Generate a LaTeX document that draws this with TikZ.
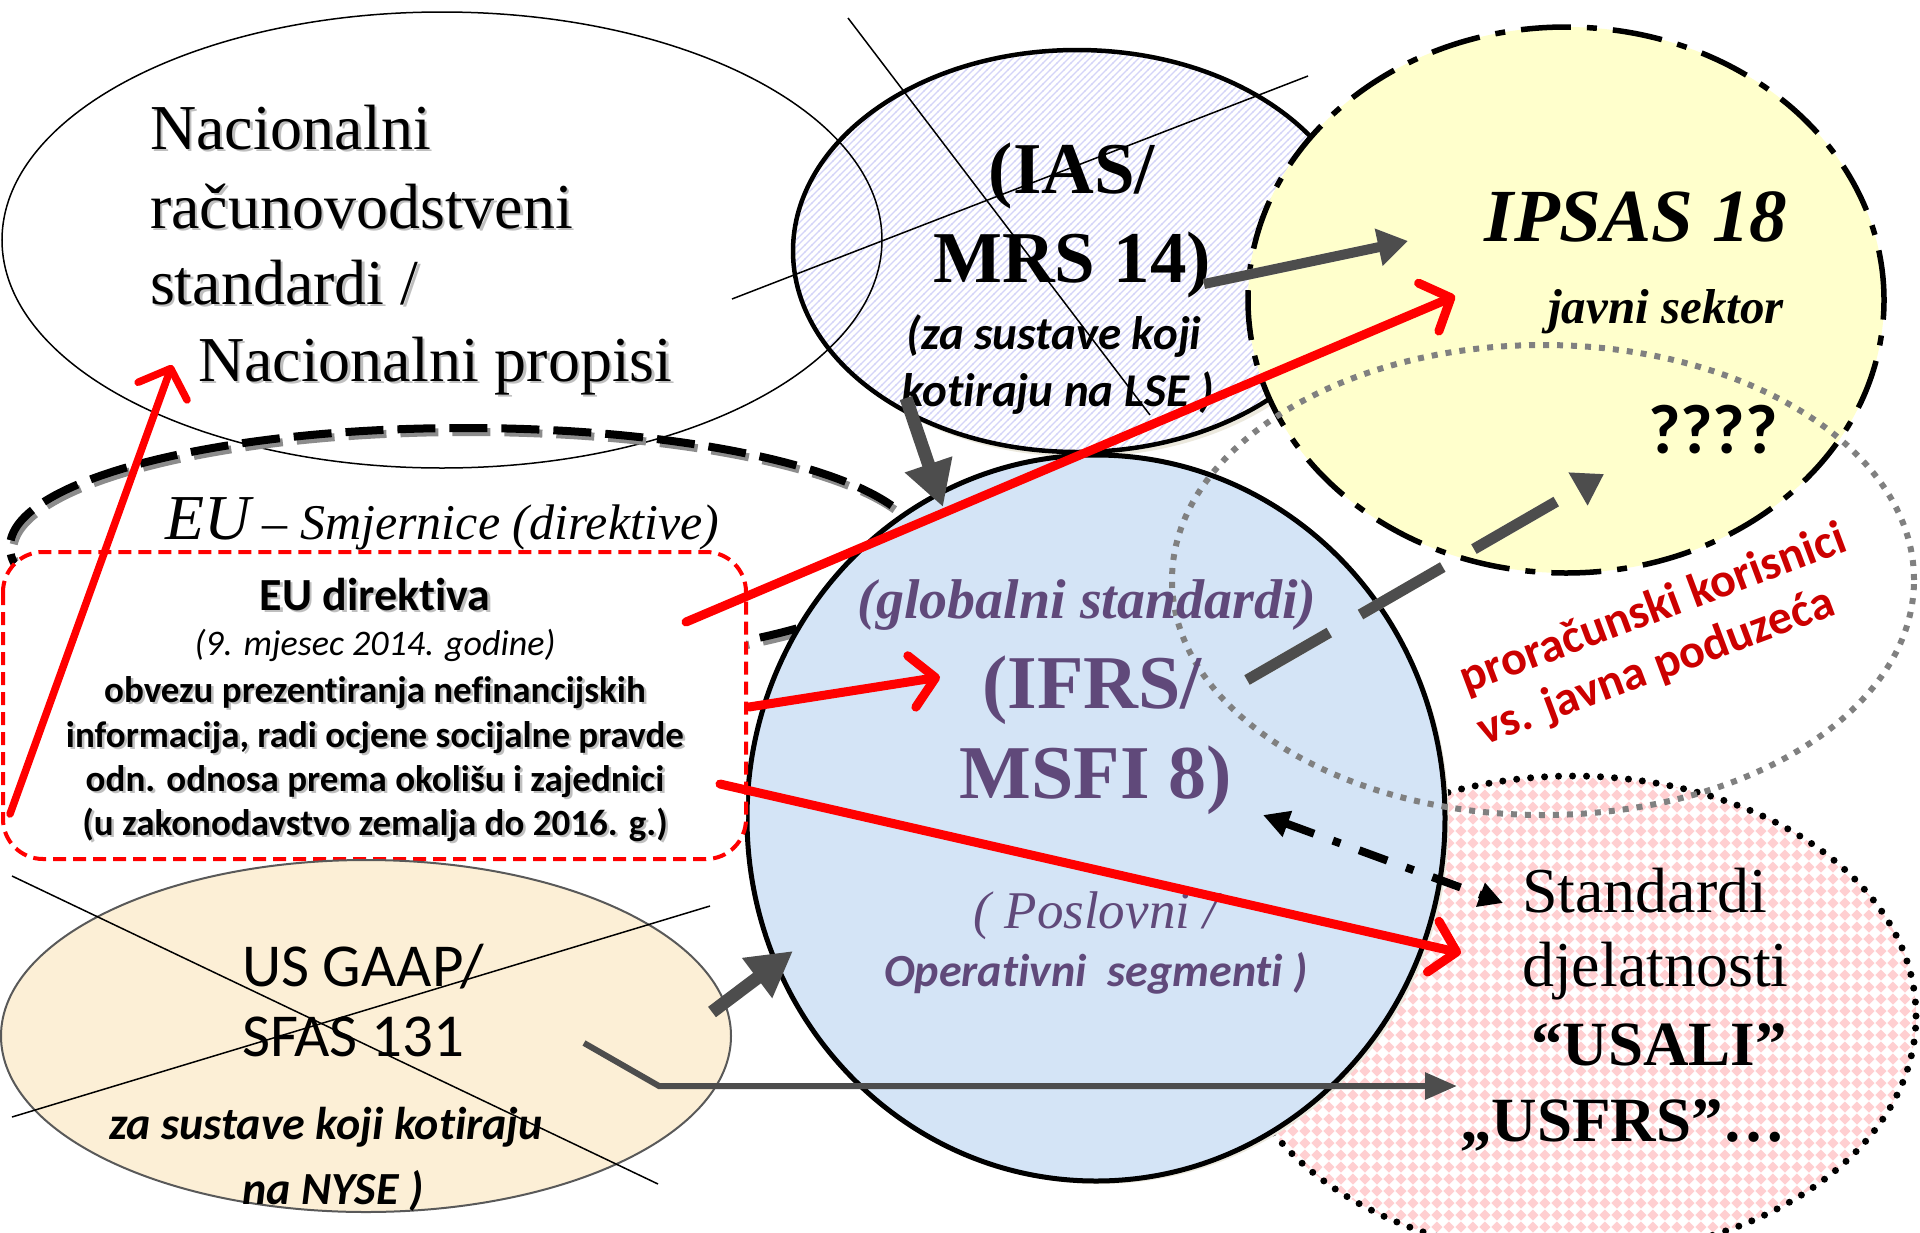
\documentclass[tikz,border=0pt]{standalone}
\usepackage{fontspec}
\setmainfont{Liberation Serif}
\newfontfamily\carl[Ligatures=NoCommon, RawFeature={-liga;-clig;-calt;-dlig}]{Carlito}
\usetikzlibrary{arrows.meta,patterns}

\newcommand\fsz[1]{\fontsize{#1}{#1}\selectfont}

\definecolor{ipsasyellow}{RGB}{255,255,204}
\definecolor{ifrsblue}{RGB}{212,228,246}
\definecolor{usbeige}{RGB}{252,239,214}
\definecolor{hatchblue}{RGB}{212,212,248}
\definecolor{pinkcell}{RGB}{255,207,209}
\definecolor{dotgray}{RGB}{128,128,128}
\definecolor{arrowgray}{RGB}{77,77,77}
\definecolor{ifrspurple}{RGB}{96,73,122}
\definecolor{redtxt}{RGB}{204,0,0}
\definecolor{halo}{RGB}{236,233,222}
\definecolor{glint}{RGB}{244,242,228}

% fine diagonal hatch for the IAS ellipse
\pgfdeclarepatternformonly{iashatch}{\pgfqpoint{-1pt}{-1pt}}{\pgfqpoint{8pt}{8pt}}{\pgfqpoint{7pt}{7pt}}{%
  \pgfsetlinewidth{1.3pt}%
  \pgfpathmoveto{\pgfqpoint{-0.5pt}{-0.5pt}}%
  \pgfpathlineto{\pgfqpoint{7.5pt}{7.5pt}}%
  \pgfusepath{stroke}}
% rotated checkerboard of diamonds
\pgfdeclarepatternformonly{diamondcheck}{\pgfpointorigin}{\pgfqpoint{12.4pt}{12.4pt}}{\pgfqpoint{12.4pt}{12.4pt}}{%
  \pgfpathmoveto{\pgfqpoint{0.4pt}{6.2pt}}%
  \pgfpathlineto{\pgfqpoint{6.2pt}{0.4pt}}%
  \pgfpathlineto{\pgfqpoint{12pt}{6.2pt}}%
  \pgfpathlineto{\pgfqpoint{6.2pt}{12pt}}%
  \pgfpathclose
  \pgfusepath{fill}}

% a text node with a soft drop shadow
\newcommand\shadowtext[4]{%
  \node[#2, text=black!25, xshift=2.5pt, yshift=-2.5pt] (#1-sh) at (#3) {#4};
  \node[#2] (#1) at (#3) {#4};}

\tikzset{
  lbl/.style={inner sep=0pt, outer sep=0pt},
  nactxt/.style={lbl, anchor=base west, font=\fsz{64}},
  iasbig/.style={lbl, anchor=base, font=\bfseries\fsz{73}},
  iassmall/.style={lbl, anchor=base, font=\carl\bfseries\itshape\fsz{47}},
  ifrstxt/.style={lbl, anchor=base, text=ifrspurple},
  stdtxt/.style={lbl, anchor=base west, font=\fsz{64}},
  dirtxt/.style={lbl, anchor=base, font=\carl\bfseries\fsz{37}},
  ustxt/.style={lbl, anchor=base west, font=\carl\fsz{61}},
  usnote/.style={lbl, anchor=base, font=\carl\bfseries\itshape\fsz{46}},
  pktxt/.style={lbl, anchor=base, rotate=20.5, text=redtxt, font=\carl\bfseries\fsz{48}},
  crossline/.style={black, line width=1.5pt},
  redarrow/.style={red, line width=9pt, line cap=round, line join=round,
    -{Straight Barb[length=24pt, width=52pt, line cap=round, line join=round]}},
  grayarrow/.style={arrowgray, line width=13pt, -{Triangle[length=45pt, width=47pt]}},
}

\begin{document}
\begin{tikzpicture}[x=1pt, y=-1pt]
\useasboundingbox (0,0) rectangle (1920,1232);
\fill[white] (0,0) rectangle (1920,1232);

% ---------- IAS / MRS 14 ellipse ----------
\fill[halo] (1081,256) ellipse [x radius=284pt, y radius=201pt];
\fill[white] (1077,251) ellipse [x radius=284pt, y radius=201pt];
\fill[pattern=iashatch, pattern color=hatchblue] (1077,251) ellipse [x radius=284pt, y radius=201pt];
\draw[line width=4.5pt] (1077,251) ellipse [x radius=284pt, y radius=201pt];

% ---------- national standards ellipse ----------
\draw[line width=1.5pt] (442,240) ellipse [x radius=440pt, y radius=228pt];

% ---------- EU guidelines ellipse (hand-drawn dashes) ----------
\draw[black!45, line width=8pt, dash pattern=on 38pt off 14pt] (468,551) ellipse [x radius=455pt, y radius=119pt];
\draw[black, line width=8pt, dash pattern=on 38pt off 14pt] (465,547) ellipse [x radius=455pt, y radius=119pt];

% ---------- industry standards ellipse ----------
\fill[white] (1573,1016) ellipse [x radius=343pt, y radius=240pt];
\fill[pattern=diamondcheck, pattern color=pinkcell] (1573,1016) ellipse [x radius=343pt, y radius=240pt];
\draw[black, line width=7pt, line cap=round, dash pattern=on 0pt off 14pt] (1573,1016) ellipse [x radius=343pt, y radius=240pt];

% ---------- IFRS circle ----------
\fill[halo] (1100,821) ellipse [x radius=349pt, y radius=363pt];
\fill[ifrsblue] (1096,818) ellipse [x radius=349pt, y radius=363pt];
\draw[line width=5pt] (1096,818) ellipse [x radius=349pt, y radius=363pt];

% ---------- IPSAS circle ----------
\fill[ipsasyellow] (1566,300) ellipse [x radius=318pt, y radius=273pt];
\draw[line width=5.5pt, dash pattern=on 50pt off 16pt on 10pt off 16pt] (1566,300) ellipse [x radius=318pt, y radius=273pt];

% ---------- public sector users ellipse ----------
\draw[dotgray, line width=6pt, dash pattern=on 6pt off 8pt] (1543,580) ellipse [x radius=371pt, y radius=235pt];

% ---------- EU directive box ----------
\draw[red, fill=white, line width=4pt, dash pattern=on 13pt off 7pt, rounded corners=40pt] (3,552) rectangle (746,859);

% ---------- US GAAP ellipse ----------
\fill[usbeige] (366,1036) ellipse [x radius=365pt, y radius=176pt];
\draw[black!65, line width=2pt] (366,1036) ellipse [x radius=365pt, y radius=176pt];

% ---------- texts ----------
\shadowtext{nac1}{nactxt}{150,149}{Nacionalni}
\shadowtext{nac2}{nactxt}{150,228}{računovodstveni}
\shadowtext{nac3}{nactxt}{150,304}{standardi /}
\shadowtext{nac4}{nactxt}{198,381}{Nacionalni propisi}

\node[iasbig] (ias1) at (1072,193) {(IAS/};
\node[iasbig] (ias2) at (1072,282) {MRS 14)};
\node[iassmall] (ias3) at (1054,349) {(za sustave koji};
\node[iassmall] (ias4) at (1058,406) {kotiraju na LSE )};

\node[lbl, anchor=base, font=\bfseries\itshape\fsz{75}] (ips1) at (1636,241) {IPSAS 18};
\node[lbl, anchor=base, font=\bfseries\itshape\fsz{49}] (ips2) at (1666,323) {javni sektor};
\node[lbl, anchor=base, font=\carl\bfseries\fsz{70}] (ips3) at (1713,453) {????};

\node[pktxt] (pk1) at (1658,622) {proračunski korisnici};
\node[pktxt] (pk2) at (1661,680) {vs. javna poduzeća};

\node[ifrstxt, font=\bfseries\itshape\fsz{56}] (if1) at (1087,618) {(globalni standardi)};
\node[ifrstxt, font=\bfseries\fsz{76}] (if2) at (1092,708) {(IFRS/};
\node[ifrstxt, font=\bfseries\fsz{76}] (if3) at (1096,798) {MSFI 8)};
\node[ifrstxt, font=\itshape\fsz{53}] (if4) at (1096,928) {( Poslovni /};
\node[ifrstxt, font=\carl\bfseries\itshape\fsz{46}] (if5) at (1096,986) {Operativni\ \ segmenti )};

\node[stdtxt] (st1) at (1522,912) {Standardi};
\node[stdtxt] (st2) at (1522,986) {djelatnosti};
\node[stdtxt, font=\bfseries\fsz{63}] (st3) at (1531,1065) {“USALI”};
\node[stdtxt, font=\bfseries\fsz{63}] (st4) at (1460,1141) {„USFRS”…};

\node[lbl, anchor=base west, font=\itshape] (eu) at (165,539) {\fsz{64}EU\fsz{50}\ – Smjernice (direktive)};

\shadowtext{d1}{dirtxt, font=\carl\bfseries\fsz{46}}{375,610}{EU direktiva}
\node[lbl, anchor=base, font=\carl\itshape\fsz{36}] (d2) at (375,655) {(9. mjesec 2014. godine)};
\shadowtext{d3}{dirtxt}{375,702}{obvezu prezentiranja nefinancijskih}
\shadowtext{d4}{dirtxt}{375,747}{informacija, radi ocjene socijalne pravde}
\shadowtext{d5}{dirtxt}{375,791}{odn. odnosa prema okolišu i zajednici}
\shadowtext{d6}{dirtxt}{375,835}{(u zakonodavstvo zemalja do 2016. g.)}

\node[ustxt] (us1) at (242,986) {US GAAP/};
\node[ustxt] (us2) at (242,1056) {SFAS 131};
\node[usnote] (us3) at (326,1139) {za sustave koji kotiraju};
\node[usnote] (us4) at (333,1204) {na NYSE )};

% ---------- strike-through lines ----------
\coordinate (iasX1) at (848,18);   \coordinate (iasX2) at (1150,415);
\coordinate (iasY1) at (732,299);  \coordinate (iasY2) at (1308,76);
\coordinate (usX1) at (12,876);    \coordinate (usX2) at (658,1184);
\coordinate (usY1) at (12,1117);   \coordinate (usY2) at (710,906);
\draw[crossline] (iasX1) -- (iasX2);
\draw[crossline] (iasY1) -- (iasY2);
\draw[crossline] (usX1) -- (usX2);
\draw[crossline] (usY1) -- (usY2);

% ---------- connector end points ----------
\coordinate (aT) at (10,814);    \coordinate (aH) at (172,365);
\coordinate (bT) at (686,622);   \coordinate (bH) at (1455,296);
\coordinate (cT) at (749,707);   \coordinate (cH) at (940,677);
\coordinate (dT) at (720,784);   \coordinate (dH) at (1461,953);
\coordinate (eT) at (1204,284);  \coordinate (eH) at (1408,241);
\coordinate (fT) at (906,398);   \coordinate (fH) at (943,507);
\coordinate (gT) at (712,1012);  \coordinate (gH) at (793,951);
\coordinate (hT) at (584,1043);  \coordinate (hK) at (659,1086);  \coordinate (hH) at (1457,1086);
\coordinate (iA) at (1263,815);  \coordinate (iB) at (1503,903);
\coordinate (jT) at (1247,680);  \coordinate (jH) at (1604,474);

% ---------- gray connectors ----------
\draw[glint, line width=10pt, -{Triangle[length=30pt, width=36pt]}, shift={(12,14)}] (eT) -- (eH);
\draw[arrowgray, line width=10pt, -{Triangle[length=30pt, width=36pt]}] (eT) -- (eH);
\draw[grayarrow] (fT) -- (fH);
\draw[grayarrow] (gT) -- (gH);
\draw[arrowgray, line width=6pt, -{Triangle[length=32pt, width=26pt]}] (hT) -- (hK) -- (hH);
\draw[glint, line width=11pt, dash pattern=on 95pt off 36pt, -{Triangle[length=30pt, width=36pt]}, shift={(-12,-10)}] (jT) -- (jH);
\draw[arrowgray, line width=11pt, dash pattern=on 95pt off 36pt, -{Triangle[length=30pt, width=36pt]}] (jT) -- (jH);

% ---------- dash-dot link IFRS <-> industry standards ----------
\draw[black, line width=8pt, dash pattern=on 30pt off 20pt on 8pt off 20pt,
  {Triangle[length=26pt, width=26pt]}-{Triangle[length=24pt, width=24pt]}] (iA) -- (iB);

% ---------- red connectors ----------
\draw[redarrow, line width=7.5pt] (aT) -- (aH);
\draw[redarrow] (bT) -- (bH);
\draw[redarrow] (cT) -- (cH);
\draw[redarrow] (dT) -- (dH);
\end{tikzpicture}
\end{document}
